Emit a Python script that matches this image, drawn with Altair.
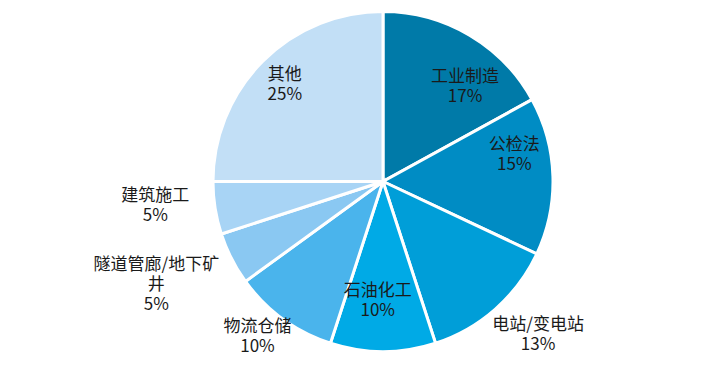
import altair as alt
import pandas as pd

categories = ["工业制造", "公检法", "电站/变电站", "石油化工", "物流仓储", "隧道管廊/地下矿\n井", "建筑施工", "其他"]
values = [17, 15, 13, 10, 10, 5, 5, 25]
colors = ["#007AA8", "#008CC4", "#009ED8", "#00AAE6", "#4AB4EC", "#8AC8F2", "#A8D4F5", "#C2DFF6"]

# label placement (layout): angle in percent of circle, distance from pie centre in px
label_angle = [11.4, 21.8, 37.4, 50.7, 60.8, 68.8, 73.3, 87.4]
label_dist = [125, 134, 218, 120, 200, 245, 229, 138]

df = pd.DataFrame({
    "cat": categories,
    "value": values,
    "order": list(range(len(categories))),
    "label": [f"{c}\n{v}%" for c, v in zip(categories, values)],
    "la": label_angle,
    "ld": label_dist,
})

CX, CY, R = 375, 173.5, 170

pie = alt.Chart(df).mark_arc(outerRadius=R, stroke="white", strokeWidth=3).encode(
    theta=alt.Theta("value:Q", stack=True),
    order=alt.Order("order:Q"),
    color=alt.Color("cat:N", scale=alt.Scale(domain=categories, range=colors), legend=None),
    x=alt.value(CX),
    y=alt.value(CY),
)

labels = alt.Chart(df).mark_text(
    font="Noto Sans CJK SC", fontSize=17, color="#1a1a1a", lineBreak="\n",
    lineHeight=20, align="center", baseline="middle",
).encode(
    theta=alt.Theta("la:Q", stack=None, scale=alt.Scale(domain=[0, 100], range=[0, 6.283185307])),
    radius=alt.Radius("ld:Q", scale=None),
    text="label:N",
    x=alt.value(CX),
    y=alt.value(CY - 10),
)

chart = alt.layer(pie, labels).properties(
    width=700, height=349, padding=0, autosize="none"
).configure_view(stroke=None)

chart.save("out.html", embed_options={"renderer": "svg", "actions": False})
